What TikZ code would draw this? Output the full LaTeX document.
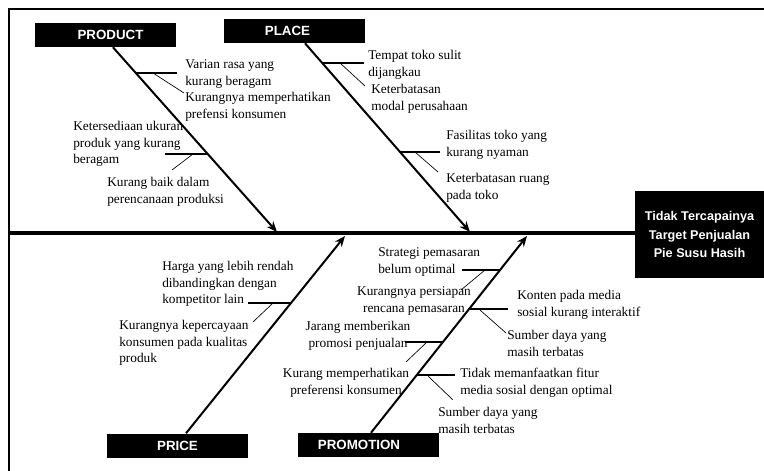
\documentclass[tikz,border=0pt]{standalone}
\usepackage{fontspec}
\setmainfont{Liberation Serif}
\setsansfont{Liberation Sans}
\usetikzlibrary{arrows.meta}
\tikzset{
    cat/.style={fill=black, text=white, inner sep=0pt, minimum width=105.75pt, minimum height=18pt, font=\sffamily\bfseries\fontsize{10}{12}\selectfont},
    effectbox/.style={fill=black, text=white, inner sep=0pt, minimum width=96.75pt, minimum height=65.25pt, align=center, font=\sffamily\bfseries\fontsize{9.5}{14}\selectfont},
    spine/.style={line width=2.3pt},
    bone/.style={line width=1.5pt, -{Stealth[length=8pt,width=6.5pt]}},
    rib/.style={line width=1.9pt},
    twig/.style={line width=0.5pt},
    note/.style={inner sep=0pt, font=\fontsize{10}{12.2}\selectfont, align=left, anchor=base west},
    notec/.style={note, align=center, anchor=base}
}
\begin{document}
\begin{tikzpicture}[x=0.75pt,y=-0.75pt]
    \useasboundingbox (0,0) rectangle (764,471);
    \draw[line width=1.1pt] (9,471) -- (9,9) -- (764,9);

    \node[effectbox] (effect) at (699.5,234.5) {Tidak Tercapainya\\Target Penjualan\\Pie Susu Hasih};
    \coordinate (tail) at (9,233);
    \draw[spine] (tail) -- (tail -| effect.west);

    \node[cat] (product) at (105.5,35) {\hspace*{7.5pt}PRODUCT};
    \node[cat] (place) at (294,31) {PLACE\hspace*{9.75pt}};
    \node[cat] (price) at (177.5,445.5) {PRICE};
    \node[cat] (promotion) at (368,445) {PROMOTION\hspace*{13.5pt}};

    \coordinate (pdtip) at (277,232);
    \coordinate (pltip) at (470,232);
    \coordinate (prtip) at (345,236);
    \coordinate (pmtip) at (527,236);
    \draw[bone] ([xshift=5.6pt]product.south) -- (pdtip);
    \draw[bone] ([xshift=8.25pt]place.south) -- (pltip);
    \draw[bone] ([xshift=6.4pt]price.north) -- (prtip);
    \draw[bone] ([xshift=2.25pt]promotion.north) -- (pmtip);

    % product
    \coordinate (pd1) at (136,73);  \coordinate (pd1e) at (177,73);
    \coordinate (pd1a) at (153,73); \coordinate (pd1b) at (184,93);
    \coordinate (pd2) at (207,154); \coordinate (pd2e) at (165,154);
    \coordinate (pd2a) at (193,154); \coordinate (pd2b) at (172,170);
    \draw[rib] (pd1) -- (pd1e);
    \draw[twig] (pd1a) -- (pd1b);
    \draw[rib] (pd2) -- (pd2e);
    \draw[twig] (pd2a) -- (pd2b);
    \node[note] (pdn1) at (185,85) {Varian rasa yang\\kurang beragam};
    \node[note] (pdn2) at (185,118) {Kurangnya memperhatikan\\prefensi konsumen};
    \node[note] (pdn3) at (73,163.5) {Ketersediaan ukuran\\produk yang kurang\\beragam};
    \node[note] (pdn4) at (107,203) {Kurang baik dalam\\perencanaan produksi};

    % place
    \coordinate (pl1) at (322,63);  \coordinate (pl1e) at (364,63);
    \coordinate (pl1a) at (340,63); \coordinate (pl1b) at (365,86);
    \coordinate (pl2) at (400,152); \coordinate (pl2e) at (440,152);
    \coordinate (pl2a) at (415,152); \coordinate (pl2b) at (438,172);
    \draw[rib] (pl1) -- (pl1e);
    \draw[twig] (pl1a) -- (pl1b);
    \draw[rib] (pl2) -- (pl2e);
    \draw[twig] (pl2a) -- (pl2b);
    \node[note] (pln1) at (368,76) {Tempat toko sulit\\dijangkau};
    \node[note] (pln2) at (371,110) {Keterbatasan\\modal perusahaan};
    \node[note] (pln3) at (446,156) {Fasilitas toko yang\\kurang nyaman};
    \node[note] (pln4) at (446,199) {Keterbatasan ruang\\pada toko};

    % price
    \coordinate (pr1) at (291,303); \coordinate (pr1e) at (248,303);
    \coordinate (pr1a) at (273,303); \coordinate (pr1b) at (253,322);
    \draw[rib] (pr1) -- (pr1e);
    \draw[twig] (pr1a) -- (pr1b);
    \node[note] (prn1) at (162,303.5) {Harga yang lebih rendah\\dibandingkan dengan\\kompetitor lain};
    \node[note] (prn2) at (119,362.5) {Kurangnya kepercayaan\\konsumen pada kualitas\\produk};

    % promotion
    \coordinate (pm1) at (500,270); \coordinate (pm1e) at (462,270);
    \coordinate (pm1a) at (485,270); \coordinate (pm1b) at (461,290);
    \coordinate (pm2) at (468,309); \coordinate (pm2e) at (508,309);
    \coordinate (pm2a) at (480,310); \coordinate (pm2b) at (506,333);
    \coordinate (pm3) at (443,342); \coordinate (pm3e) at (405,342);
    \coordinate (pm3a) at (427,342); \coordinate (pm3b) at (406,362);
    \coordinate (pm4) at (417,375); \coordinate (pm4e) at (455,375);
    \coordinate (pm4a) at (428,376); \coordinate (pm4b) at (453,400);
    \draw[rib] (pm1) -- (pm1e);
    \draw[twig] (pm1a) -- (pm1b);
    \draw[rib] (pm2) -- (pm2e);
    \draw[twig] (pm2a) -- (pm2b);
    \draw[rib] (pm3) -- (pm3e);
    \draw[twig] (pm3a) -- (pm3b);
    \draw[rib] (pm4) -- (pm4e);
    \draw[twig] (pm4a) -- (pm4b);
    \node[note] (pmn1) at (378,273) {Strategi pemasaran\\belum optimal};
    \node[notec] (pmn2) at (414,312) {Kurangnya persiapan\\rencana pemasaran};
    \node[note] (pmn3) at (517,316) {Konten pada media\\sosial kurang interaktif};
    \node[note] (pmn4) at (507,356) {Sumber daya yang\\masih terbatas};
    \node[notec] (pmn5) at (358,347) {Jarang memberikan\\promosi penjualan};
    \node[notec] (pmn6) at (346,394) {Kurang memperhatikan\\preferensi konsumen};
    \node[note] (pmn7) at (460,394) {Tidak memanfaatkan fitur\\media sosial dengan optimal};
    \node[note] (pmn8) at (438,433) {Sumber daya yang\\masih terbatas};
\end{tikzpicture}
\end{document}
